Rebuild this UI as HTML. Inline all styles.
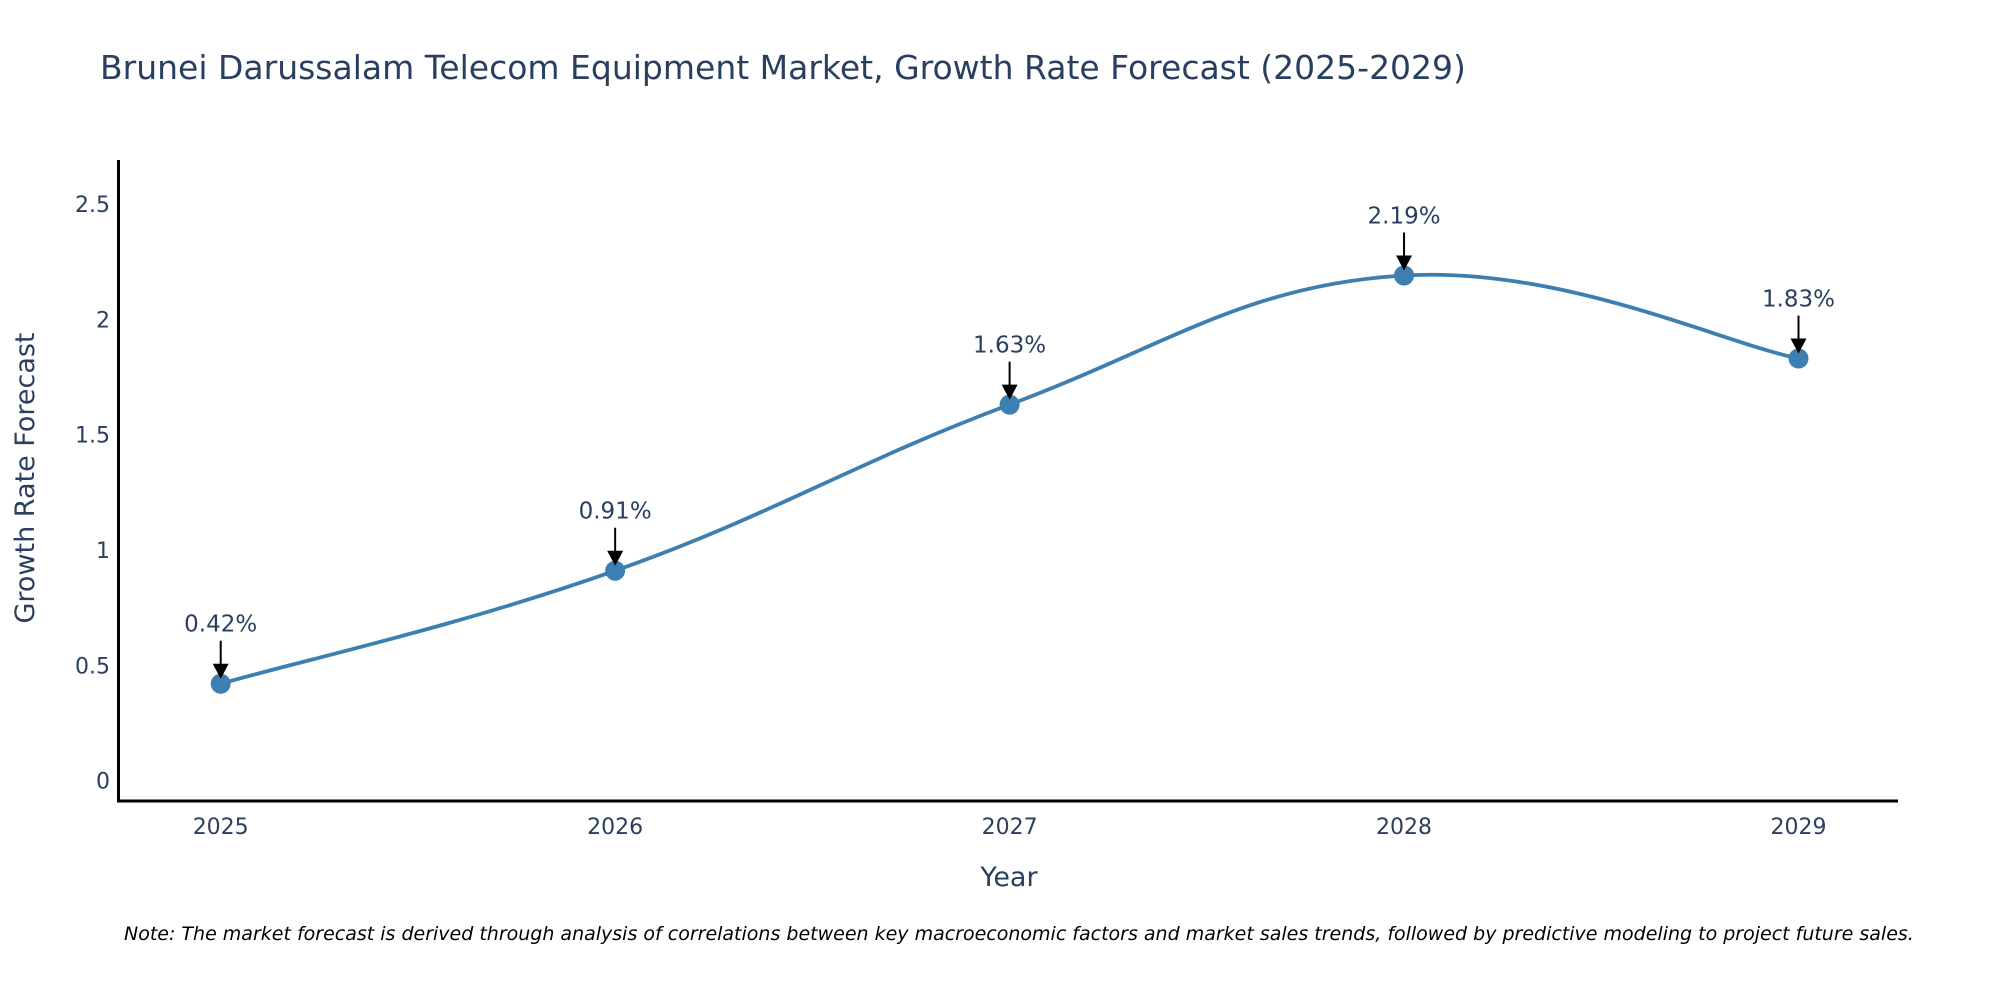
<!DOCTYPE html>
<html><head><meta charset="utf-8"><style>
html,body{margin:0;padding:0;background:#fff;}
svg{display:block;font-family:"DejaVu Sans","Liberation Sans",sans-serif;}
</style></head><body>
<svg id="chart" width="2000" height="1000" viewBox="0 0 2000 1000" xmlns="http://www.w3.org/2000/svg">
<text x="100" y="79" font-size="33" fill="#2a3f5f">Brunei Darussalam Telecom Equipment Market, Growth Rate Forecast (2025-2029)</text>
<g id="yticks"></g>
<g id="xticks"></g>
<path id="line" fill="none" stroke="#3d7fb0" stroke-width="3.8"/>
<g id="pts"></g>
<line x1="118.5" y1="160" x2="118.5" y2="802" stroke="#000" stroke-width="3"/>
<line x1="117" y1="801" x2="1898" y2="801" stroke="#000" stroke-width="3"/>
<text x="1009" y="886" font-size="27" fill="#2a3f5f" text-anchor="middle">Year</text>
<text transform="translate(34,478) rotate(-90)" font-size="27" fill="#2a3f5f" text-anchor="middle">Growth Rate Forecast</text>
<text x="124" y="940" font-size="19" font-style="italic" fill="#000">Note: The market forecast is derived through analysis of correlations between key macroeconomic factors and market sales trends, followed by predictive modeling to project future sales.</text>
</svg>
<script>
const years = [2025, 2026, 2027, 2028, 2029];
const values = [0.42, 0.91, 1.63, 2.19, 1.83];
const labels = ["0.42%", "0.91%", "1.63%", "2.19%", "1.83%"];
const yTicks = [0, 0.5, 1, 1.5, 2, 2.5];
const yTickLabels = ["0", "0.5", "1", "1.5", "2", "2.5"];

const NS = "http://www.w3.org/2000/svg";
const xs = v => 220.7 + (v - 2025) * (1798.5 - 220.7) / 4;
const ys = v => 780.6 - v * (780.6 - 204) / 2.5;
function mk(tag, attrs, parent, txt){const e=document.createElementNS(NS,tag);for(const k in attrs)e.setAttribute(k,attrs[k]);if(txt!==undefined)e.textContent=txt;parent.appendChild(e);return e;}

const yg=document.getElementById('yticks');
yTicks.forEach((t,i)=>{const e=mk('text',{x:110,y:ys(t)+8,'font-size':22,fill:'#2a3f5f','text-anchor':'end'},yg,yTickLabels[i]);

});
const xg=document.getElementById('xticks');
years.forEach(y=>{const e=mk('text',{x:xs(y),y:834,'font-size':22,fill:'#2a3f5f','text-anchor':'middle'},xg,String(y));

});

const P=years.map((y,i)=>[xs(y),ys(values[i])]);
let d=`M${P[0][0]},${P[0][1]}`;const s=0.2;
for(let i=0;i<P.length-1;i++){const p0=P[Math.max(i-1,0)],p1=P[i],p2=P[i+1],p3=P[Math.min(i+2,P.length-1)];
const c1=[p1[0]+(p2[0]-p0[0])*s,p1[1]+(p2[1]-p0[1])*s],c2=[p2[0]-(p3[0]-p1[0])*s,p2[1]-(p3[1]-p1[1])*s];
d+=` C${c1[0]},${c1[1]} ${c2[0]},${c2[1]} ${p2[0]},${p2[1]}`;}
document.getElementById('line').setAttribute('d',d);

const pg=document.getElementById('pts');
P.forEach((p,i)=>{
const c=mk('circle',{cx:p[0],cy:p[1],r:10,fill:'#3d7fb0'},pg);


const a=mk('line',{x1:p[0],y1:p[1]-43,x2:p[0],y2:p[1]-18,stroke:'#000','stroke-width':2},pg);


const h=mk('polygon',{points:`${p[0]-8},${p[1]-20} ${p[0]+8},${p[1]-20} ${p[0]},${p[1]-5}`,fill:'#000'},pg);


const t=mk('text',{x:p[0],y:p[1]-52,'font-size':23,fill:'#2a3f5f','text-anchor':'middle'},pg,labels[i]);


});
</script>
</body></html>
